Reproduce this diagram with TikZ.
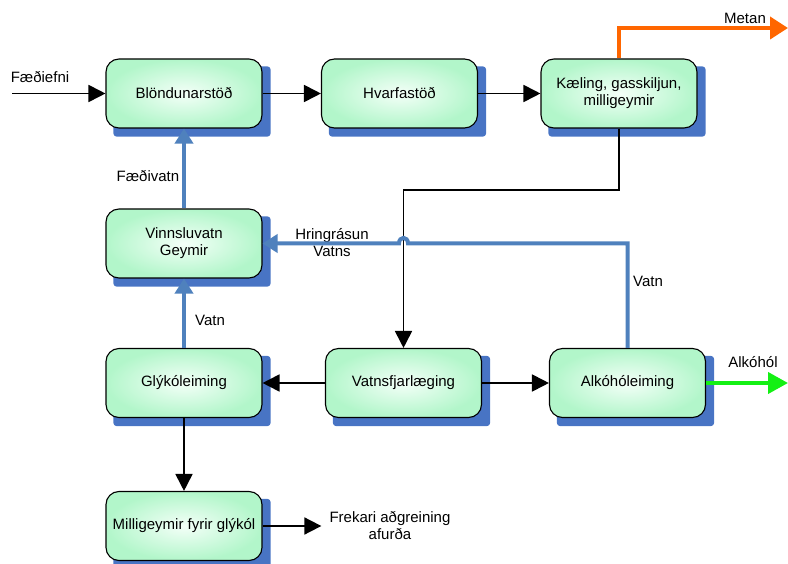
\documentclass[tikz,border=0pt]{standalone}
\usepackage{fontspec}
\setmainfont{Liberation Sans}
\usetikzlibrary{arrows.meta, backgrounds}
\definecolor{shadowblue}{RGB}{72,116,196}
\definecolor{waterblue}{RGB}{79,129,189}
\definecolor{boxgreen}{RGB}{178,246,202}
\definecolor{boxcore}{RGB}{244,255,248}
\definecolor{metanorange}{RGB}{255,102,0}
\definecolor{alkgreen}{RGB}{20,240,20}

\begin{document}
\begin{tikzpicture}[x=1pt, y=-1pt, font=\fontsize{15}{17}\selectfont,
		proc/.style={draw=black, line width=1.1pt, rounded corners=13pt,
			minimum width=156pt, minimum height=69pt, inner sep=2pt,
			inner color=boxcore, outer color=boxgreen, align=center},
		flow/.style={line width=1.8pt, -{Triangle[length=17pt, width=17pt]}},
		wflow/.style={waterblue, line width=4pt, -{Triangle[length=15pt, width=18pt]}},
		lbl/.style={inner sep=1pt}]
		
		\useasboundingbox (0,0) rectangle (788,564);
		
		% Process boxes
		\node[proc] (blond)   at (184,93.5)   {Blöndunarstöð};
		\node[proc] (hvarf)   at (399.5,93.5) {Hvarfastöð};
		\node[proc] (kaeling) at (619,93.5)   {Kæling, gasskiljun,\\ milligeymir};
		\node[proc] (vinnslu) at (184,243.5)  {Vinnsluvatn\\ Geymir};
		\node[proc] (glykol)  at (184,383)    {Glýkóleiming};
		\node[proc] (vatnsfj) at (403.5,383)  {Vatnsfjarlæging};
		\node[proc] (alkohol) at (627.5,383)  {Alkóhóleiming};
		\node[proc] (millig)  at (184,526)    {Milligeymir fyrir glýkól};
		
		% Shadows behind the boxes
		\begin{scope}[on background layer]
			\foreach \n in {blond,hvarf,kaeling,vinnslu,glykol,vatnsfj,alkohol,millig} {
				\fill[shadowblue, rounded corners=3pt]
				([shift={(8pt,-8pt)}]\n.south west) rectangle ([shift={(8pt,-8pt)}]\n.north east);
			}
		\end{scope}
		
		% Free ends and bends
		\coordinate (feed) at (12,93.5);
		\coordinate (turn) at (403.5,190);
		\coordinate (hopR) at (408,243.5);
		\coordinate (hopL) at (399,243.5);
		\coordinate (metanend) at (788,28);
		\coordinate (alkend) at (788,383);
		
		% Labels
		\node[lbl] (lfeed)  at (40,77)   {Fæðiefni};
		\node[lbl] (lmetan) at (745,18)  {Metan};
		\node[lbl] (lalk)   at (753,362) {Alkóhól};
		\node[lbl] (lfvatn) at (148,176) {Fæðivatn};
		\node[lbl] (lvatn)  at (210,320) {Vatn};
		\node[lbl] (lvatn2) at (648,281) {Vatn};
		\node[lbl, align=center] (lhring) at (332,243) {Hringrásun\\Vatns};
		\node[lbl, align=center] (frekari) at (390,526) {Frekari aðgreining\\afurða};
		
		% Main product flow
		\draw[flow] (feed) -- (blond.west);
		\draw[flow] (blond) -- (hvarf);
		\draw[flow] (hvarf) -- (kaeling);
		\draw[flow] (kaeling.south) |- (turn) -- (vatnsfj.north);
		\draw[flow] (vatnsfj) -- (glykol);
		\draw[flow] (vatnsfj) -- (alkohol);
		\draw[flow] (glykol) -- (millig);
		\draw[flow, shorten >=7pt] (millig) -- (frekari);
		
		% Water loop
		\draw[wflow] (vinnslu) -- (blond);
		\draw[wflow] (glykol) -- (vinnslu);
		\draw[wflow] (alkohol.north) |- (hopR) .. controls (408,236) and (399,236) .. (hopL) -- (vinnslu.east);
		
		% Products
		\draw[metanorange, line width=4pt, -{Triangle[length=18pt, width=22pt]}] (kaeling.north) |- (metanend);
		\draw[alkgreen, line width=4pt, -{Triangle[length=20pt, width=21pt]}] (alkohol.east) -- (alkend);
		
	\end{tikzpicture}
\end{document}
